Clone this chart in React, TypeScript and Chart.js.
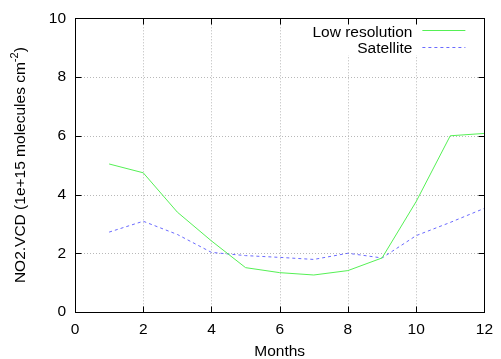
import React, { useEffect, useRef } from "react";
import { Chart, registerables } from "chart.js";

Chart.register(...registerables);

const months = [1, 2, 3, 4, 5, 6, 7, 8, 9, 10, 11, 12];
const lowResolution = [5.04, 4.74, 3.4, 2.42, 1.51, 1.34, 1.26, 1.41, 1.84, 3.76, 6.0, 6.08];
const satellite = [2.72, 3.09, 2.64, 2.03, 1.92, 1.86, 1.79, 2.0, 1.84, 2.6, 3.05, 3.53];
const seriesLabels = ["Low resolution", "Satellite"];
const xTicks = [0, 2, 4, 6, 8, 10, 12];
const yTicks = [0, 2, 4, 6, 8, 10];
const xTitle = "Months";
const yTitleMain = "NO2.VCD (1e+15 molecules cm";
const yTitleSup = "-2";
const yTitleEnd = ")";

const FONT = "Liberation Sans, Arial, Helvetica, sans-serif";
const FS = 15.5;

const framePlugin = {
  id: "gnuplotFrame",
  beforeDatasetsDraw(chart: any) {
    const { ctx, chartArea: a, scales } = chart;
    const xs = scales.x;
    const ys = scales.y;
    ctx.save();
    ctx.strokeStyle = "#b8b8b8";
    ctx.lineWidth = 1;
    ctx.setLineDash([1, 2]);
    for (const v of xTicks) {
      const px = Math.round(xs.getPixelForValue(v)) + 0.5;
      ctx.beginPath();
      ctx.moveTo(px, a.top);
      ctx.lineTo(px, a.bottom);
      ctx.stroke();
    }
    for (const v of yTicks) {
      const py = Math.round(ys.getPixelForValue(v)) + 0.5;
      ctx.beginPath();
      ctx.moveTo(a.left, py);
      ctx.lineTo(a.right, py);
      ctx.stroke();
    }
    ctx.setLineDash([]);
    ctx.fillStyle = "#ffffff";
    ctx.fillRect(a.right - 177, a.top + 4, 176, 33);
    ctx.restore();
  },
  afterDatasetsDraw(chart: any) {
    const { ctx, chartArea: a, scales } = chart;
    const xs = scales.x;
    const ys = scales.y;
    ctx.save();
    ctx.strokeStyle = "#000000";
    ctx.lineWidth = 1;
    const L = Math.round(a.left) + 0.5;
    const R = Math.round(a.right) + 0.5;
    const T = Math.round(a.top) + 0.5;
    const B = Math.round(a.bottom) + 0.5;
    ctx.strokeRect(L, T, R - L, B - T);
    const tl = 6;
    ctx.beginPath();
    for (const v of xTicks) {
      const px = Math.round(xs.getPixelForValue(v)) + 0.5;
      ctx.moveTo(px, B);
      ctx.lineTo(px, B - tl);
      ctx.moveTo(px, T);
      ctx.lineTo(px, T + tl);
    }
    for (const v of yTicks) {
      const py = Math.round(ys.getPixelForValue(v)) + 0.5;
      ctx.moveTo(L, py);
      ctx.lineTo(L + tl, py);
      ctx.moveTo(R, py);
      ctx.lineTo(R - tl, py);
    }
    ctx.stroke();

    // legend
    ctx.font = `${FS}px ${FONT}`;
    ctx.fillStyle = "#000000";
    ctx.textBaseline = "middle";
    ctx.textAlign = "right";
    chart.data.datasets.forEach((ds: any, i: number) => {
      const y = a.top + 12 + 16.5 * i;
      ctx.fillText(ds.label, a.right - 72, y + 2);
      ctx.strokeStyle = ds.borderColor;
      ctx.lineWidth = ds.borderWidth;
      ctx.setLineDash(ds.borderDash || []);
      ctx.beginPath();
      ctx.moveTo(a.right - 62, Math.round(y) + 0.5);
      ctx.lineTo(a.right - 19, Math.round(y) + 0.5);
      ctx.stroke();
    });
    ctx.setLineDash([]);

    // x title
    ctx.fillStyle = "#000000";
    ctx.textAlign = "center";
    ctx.textBaseline = "middle";
    ctx.font = `${FS}px ${FONT}`;
    ctx.fillText(xTitle, (a.left + a.right) / 2, 352);

    // y title with superscript
    ctx.save();
    ctx.translate(21, (a.top + a.bottom) / 2);
    ctx.rotate(-Math.PI / 2);
    ctx.font = `${FS}px ${FONT}`;
    const w1 = ctx.measureText(yTitleMain).width;
    ctx.font = `11px ${FONT}`;
    const w2 = ctx.measureText(yTitleSup).width;
    ctx.font = `${FS}px ${FONT}`;
    const w3 = ctx.measureText(yTitleEnd).width;
    const total = w1 + w2 + w3;
    let x0 = -total / 2;
    ctx.textAlign = "left";
    ctx.textBaseline = "middle";
    ctx.fillText(yTitleMain, x0, 0);
    x0 += w1;
    ctx.font = `11px ${FONT}`;
    ctx.fillText(yTitleSup, x0, -6);
    x0 += w2;
    ctx.font = `${FS}px ${FONT}`;
    ctx.fillText(yTitleEnd, x0, 0);
    ctx.restore();

    ctx.restore();
  },
};

export default function App() {
  const ref = useRef<HTMLCanvasElement | null>(null);
  useEffect(() => {
    if (!ref.current) return;
    const chart = new Chart(ref.current, {
      type: "line",
      data: {
        datasets: [
          {
            label: seriesLabels[0],
            data: months.map((m, i) => ({ x: m, y: lowResolution[i] })),
            borderColor: "#55f055",
            borderWidth: 1,
            pointRadius: 0,
            tension: 0,
            fill: false,
          },
          {
            label: seriesLabels[1],
            data: months.map((m, i) => ({ x: m, y: satellite[i] })),
            borderColor: "#6a6aff",
            borderWidth: 1,
            borderDash: [3, 3],
            pointRadius: 0,
            tension: 0,
            fill: false,
          },
        ],
      },
      options: {
        animation: false,
        responsive: false,
        maintainAspectRatio: false,
        layout: { padding: { top: 18, right: 11, left: 0, bottom: 0 } },
        plugins: { legend: { display: false }, tooltip: { enabled: false } },
        scales: {
          x: {
            type: "linear",
            min: 0,
            max: 12,
            afterBuildTicks: (s: any) => {
              s.ticks = xTicks.map((v) => ({ value: v }));
            },
            afterFit: (s: any) => {
              s.height = 47;
            },
            ticks: {
              font: { size: FS, family: FONT },
              color: "#000000",
              padding: 8,
              maxRotation: 0,
            },
            grid: { display: false, drawTicks: false },
            border: { display: false },
          },
          y: {
            type: "linear",
            min: 0,
            max: 10,
            afterBuildTicks: (s: any) => {
              s.ticks = yTicks.map((v) => ({ value: v }));
            },
            afterFit: (s: any) => {
              s.width = 75;
            },
            ticks: {
              font: { size: FS, family: FONT },
              color: "#000000",
              padding: 9,
            },
            grid: { display: false, drawTicks: false },
            border: { display: false },
          },
        },
      },
      plugins: [framePlugin],
    } as any);
    return () => chart.destroy();
  }, []);
  return (
    <div style={{ position: "fixed", left: 0, top: 0, width: 501, height: 359, background: "#fff" }}>
      <canvas ref={ref} width={501} height={359} style={{ display: "block", width: 501, height: 359 }} />
    </div>
  );
}
